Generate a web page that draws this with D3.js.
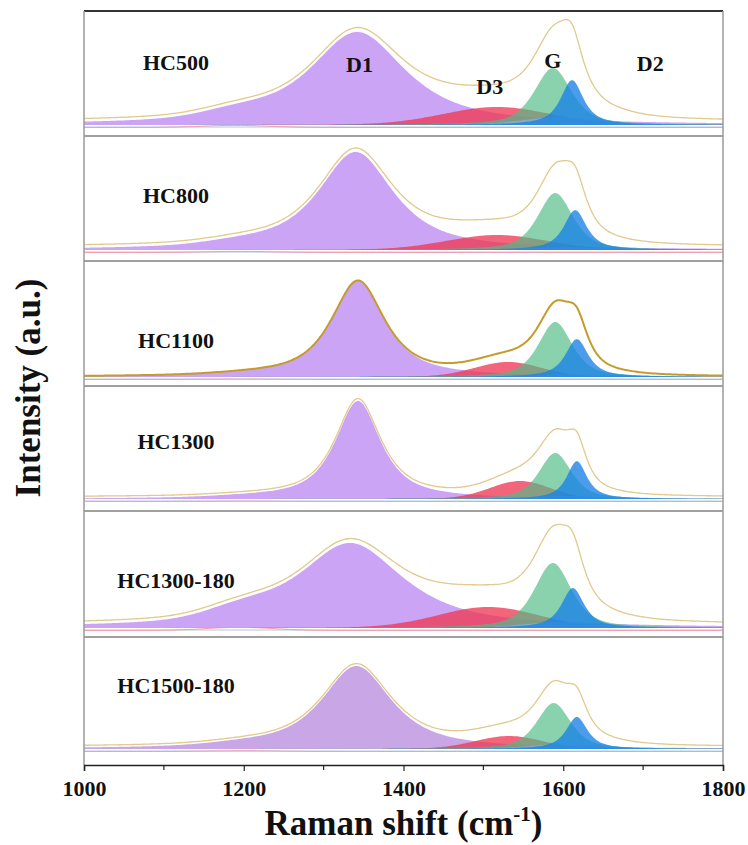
<!DOCTYPE html>
<html>
<head>
<meta charset="utf-8">
<script src="https://cdn.jsdelivr.net/npm/d3@7"></script>
<style>
  body { margin: 0; background: #fff; }
  text { font-family: "Liberation Serif", "Times New Roman", serif; font-weight: bold; fill: #111; }
</style>
</head>
<body>
<svg id="chart" width="748" height="845"></svg>
<script>
// Samples, top to bottom
const samples = ["HC500", "HC800", "HC1100", "HC1300", "HC1300-180", "HC1500-180"];

// Fitted Raman bands per sample: [centre (cm-1), FWHM (cm-1), height (a.u.)]
const bandD1    = [[1342, 145, 93], [1340, 114, 98], [1343, 80, 96], [1343, 68, 98], [1333, 160, 85], [1341, 105, 83]];
const bandD4    = [[1190, 100, 6], [1195, 100, 3], [1200, 100, 1], [1200, 100, 1], [1195, 100, 9], [1200, 100, 2]];
const bandD3    = [[1517, 160, 18], [1517, 150, 15], [1531, 100, 15], [1546, 90, 18], [1506, 150, 21], [1532, 100, 13]];
const bandG     = [[1587, 55, 57], [1590, 52, 57], [1590, 50, 55], [1590, 48, 46], [1587, 55, 65], [1588, 50, 46]];
const bandD2    = [[1611, 34, 45], [1615, 34, 40], [1617, 34, 38], [1617, 30, 38], [1612, 34, 40], [1617, 32, 32]];
const bandBroad = [[1600, 120, 8], [1605, 110, 3], [1605, 110, 3], [1605, 110, 3], [1600, 120, 6], [1605, 110, 5]];

// Measured spectrum sits slightly above the summed fit
const envelopeLift = [3, 3, 0, 2, 3, 2];

// Band names written in the first panel and the wavenumber each is centred on
const bandNames = ["D1", "D3", "G", "D2"];
const bandNameAt = [1345, 1508, 1587, 1709];

// Axis ticks
const minorTicks = [1100, 1300, 1500, 1700];
const majorTicks = [1000, 1200, 1400, 1600, 1800];
const majorTickLabels = ["1000", "1200", "1400", "1600", "1800"];

// ---- layout ----
const svg = d3.select("#chart");
const x = d3.scaleLinear().domain([1000, 1800]).range([84, 723]);
const panelEdges = [11, 136, 261, 386, 511, 637, 765];
const baseGap = [11, 11, 9, 12, 9, 16];
const labelBaseline = [70, 203, 348, 449, 588, 693];
const bandNameBaseline = [72, 94, 68, 71];
const sampleLabelX = 176;

// pseudo-Voigt profile, eta = Lorentzian fraction
function pv(w, band, eta) {
  const [c, f, h] = band;
  const d = (w - c) / (f / 2);
  return h * (eta / (1 + d * d) + (1 - eta) * Math.exp(-Math.LN2 * d * d));
}
const grid = d3.range(1000, 1800.01, 2);

const d1Fill = ["#cba4f6", "#cba4f6", "#cba4f6", "#cba4f6", "#cba4f6", "#c9a7e6"];
const envColor = ["#e2c98c", "#e2c98c", "#c59b2c", "#e2c98c", "#e2c98c", "#e2c98c"];
const envWidth = [1.3, 1.3, 2, 1.3, 1.3, 1.3];

samples.forEach((name, i) => {
  const top = panelEdges[i], bottom = panelEdges[i + 1];
  const base = bottom - baseGap[i];
  const y = d3.scaleLinear().domain([0, 100]).range([base, base - 100]);

  const clipId = "clip" + i;
  svg.append("clipPath").attr("id", clipId)
    .append("rect").attr("x", x(1000)).attr("y", top).attr("width", x(1800) - x(1000)).attr("height", bottom - top);
  const g = svg.append("g").attr("clip-path", `url(#${clipId})`);

  const pts = grid.map(w => {
    const d1 = pv(w, bandD1[i], 0.85);
    const d4 = pv(w, bandD4[i], 0);
    const d3b = pv(w, bandD3[i], 0.1);
    const gb = pv(w, bandG[i], 0.6);
    const d2 = pv(w, bandD2[i], 0.85);
    const br = pv(w, bandBroad[i], 0);
    return { w, d1: d1 + d4, d4, d3: d3b, g: gb, d2, br, sum: d1 + d4 + d3b + gb + d2 + br };
  });

  const area = key => d3.area().x(d => x(d.w)).y0(y(0)).y1(d => y(d[key]));

  // thin component baselines
  g.append("line").attr("x1", x(1000)).attr("x2", x(1800)).attr("y1", y(-2)).attr("y2", y(-2))
    .attr("stroke", "#b9c6d2").attr("stroke-width", 1);
  g.append("path").datum(pts)
    .attr("d", d3.line().x(d => x(d.w)).y(d => y(d.d4 * 0.35 - 2.5)))
    .attr("fill", "none").attr("stroke", "#f09aae").attr("stroke-width", 1);

  g.append("path").datum(pts).attr("d", area("d1")).attr("fill", d1Fill[i]);
  g.append("path").datum(pts).attr("d", area("d3")).attr("fill", "#ee3a55").attr("fill-opacity", 0.78);
  g.append("path").datum(pts).attr("d", area("g")).attr("fill", "#52bb88").attr("fill-opacity", 0.68);
  g.append("path").datum(pts).attr("d", area("br")).attr("fill", "#7fb9f2").attr("fill-opacity", 0.6);
  g.append("path").datum(pts).attr("d", area("d2")).attr("fill", "#1882e6").attr("fill-opacity", 0.78);

  g.append("path").datum(pts)
    .attr("d", d3.line().x(d => x(d.w)).y(d => y(d.sum + envelopeLift[i])))
    .attr("fill", "none").attr("stroke", envColor[i]).attr("stroke-width", envWidth[i]);

  svg.append("text").attr("x", sampleLabelX).attr("y", labelBaseline[i])
    .attr("text-anchor", "middle").attr("font-size", 22).text(name);
});

// band names in the first panel
bandNames.forEach((n, k) => {
  svg.append("text").attr("x", x(bandNameAt[k])).attr("y", bandNameBaseline[k])
    .attr("text-anchor", "middle").attr("font-size", 22).text(n);
});

// panel frame
panelEdges.slice(1, -1).forEach(e => {
  svg.append("line").attr("x1", x(1000)).attr("x2", x(1800)).attr("y1", e).attr("y2", e)
    .attr("stroke", "#808080").attr("stroke-width", 1.5);
});
svg.append("line").attr("x1", x(1000)).attr("x2", x(1800)).attr("y1", panelEdges[0]).attr("y2", panelEdges[0])
  .attr("stroke", "#333").attr("stroke-width", 2);
[1000, 1800].forEach(v => {
  svg.append("line").attr("x1", x(v)).attr("x2", x(v)).attr("y1", panelEdges[0]).attr("y2", panelEdges[6])
    .attr("stroke", "#9a9a9a").attr("stroke-width", 1.5);
});

// x axis
const axisY = panelEdges[6];
const axis = svg.append("g").attr("transform", `translate(0,${axisY})`)
  .call(d3.axisBottom(x).tickValues(majorTicks).tickSize(6).tickPadding(9)
    .tickFormat((d, k) => majorTickLabels[k]));
axis.select(".domain").attr("stroke", "#222").attr("stroke-width", 1.5);
axis.selectAll(".tick line").attr("stroke", "#222").attr("stroke-width", 1.2);
axis.selectAll(".tick text").attr("font-size", 22)
  .style("font-family", '"Liberation Serif", "Times New Roman", serif').style("font-weight", "bold").attr("fill", "#111");
minorTicks.forEach(v => {
  axis.append("line").attr("x1", x(v)).attr("x2", x(v)).attr("y1", 0).attr("y2", 5)
    .attr("stroke", "#222").attr("stroke-width", 1.2);
});

// axis titles
const xt = svg.append("text").attr("x", (x(1000) + x(1800)) / 2).attr("y", 835)
  .attr("text-anchor", "middle").attr("font-size", 35);
xt.append("tspan").text("Raman shift (cm");
xt.append("tspan").attr("font-size", 21).attr("dy", -14).text("-1");
xt.append("tspan").attr("dy", 14).text(")");

svg.append("text").attr("transform", "translate(40,388) rotate(-90)")
  .attr("text-anchor", "middle").attr("font-size", 35).text("Intensity (a.u.)");
</script>
</body>
</html>
